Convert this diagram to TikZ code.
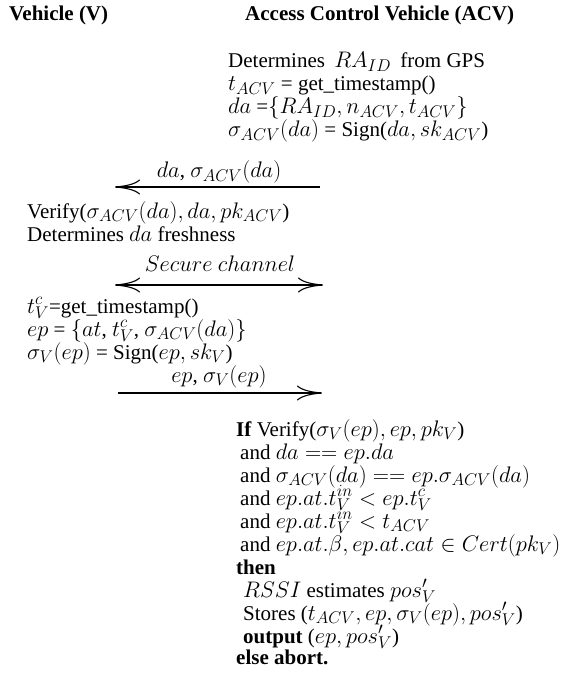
\RequirePackage{fix-cm}
\documentclass[tikz,border=0pt]{standalone}
\usepackage{fontspec}
\setmainfont{Liberation Serif}
\usetikzlibrary{arrows.meta}
\DeclareMathSizes{21}{22.5}{17}{12.5}
\tikzset{
  txt/.style={inner sep=0pt, anchor=base west, font=\fontsize{21}{23}\selectfont},
  lbl/.style={inner sep=0pt, anchor=base, font=\fontsize{21}{23}\selectfont},
  msg/.style={line width=1.1pt, -{Computer Modern Rightarrow[length=25pt,width=15pt,line width=1.1pt]}},
  msgboth/.style={line width=1.1pt, {Computer Modern Rightarrow[length=25pt,width=15pt,line width=1.1pt]}-{Computer Modern Rightarrow[length=25pt,width=15pt,line width=1.1pt]}}
}
\begin{document}
\begin{tikzpicture}[x=1pt,y=-1pt]
\useasboundingbox (0,0) rectangle (580,679);
% headers
\node[txt] (hv) at (9,21) {\textbf{Vehicle (V)}};
\node[txt] (hacv) at (245,21) {\textbf{Access Control Vehicle (ACV)}};
% ACV block 1
\node[txt] (a1) at (228,68) {Determines\hspace{4pt} $RA_{ID}$\hspace{4pt} from GPS};
\node[txt] (a2) at (228,91) {$t_{ACV}$ = get\_timestamp()};
\node[txt] (a3) at (228,114) {$da$ =$\{RA_{ID}, n_{ACV}, t_{ACV}\}$};
\node[txt] (a4) at (228,137) {$\sigma_{ACV}(da)$ = Sign($da, sk_{ACV}$)};
% message 1
\coordinate (m1s) at (320,187);
\coordinate (m1e) at (115,187);
\draw[msg] (m1s) -- (m1e);
\node[lbl] (m1l) at (219,178) {$da$, $\sigma_{ACV}(da)$};
% V block 1
\node[txt] (v1) at (27,218) {Verify($\sigma_{ACV}(da), da, pk_{ACV}$)};
\node[txt] (v2) at (27,241) {Determines $da$ freshness};
% secure channel
\coordinate (scl) at (115,285);
\coordinate (scr) at (323,285);
\draw[msgboth] (scl) -- (scr);
\node[lbl] (sclab) at (220,271) {$Secure\ channel$};
% V block 2
\node[txt] (v3) at (27,313) {$t_V^c$=get\_timestamp()};
\node[txt] (v4) at (27,336) {$ep$ = $\{at$, $t_V^c$, $\sigma_{ACV}(da)\}$};
\node[txt] (v5) at (27,359) {$\sigma_V(ep)$ = Sign($ep, sk_V$)};
% message 2
\coordinate (m2s) at (118,393);
\coordinate (m2e) at (322,393);
\draw[msg] (m2s) -- (m2e);
\node[lbl] (m2l) at (219,382) {$ep$, $\sigma_V(ep)$};
% ACV block 2
\node[txt] (b1) at (236,436) {\textbf{If} Verify($\sigma_V(ep), ep, pk_V$)};
\node[txt] (b2) at (240,459) {and $da == ep.da$};
\node[txt] (b3) at (240,482) {and $\sigma_{ACV}(da) == ep.\sigma_{ACV}(da)$};
\node[txt] (b4) at (240,505) {and $ep.at.t_V^{in} < ep.t_V^c$};
\node[txt] (b5) at (240,528) {and $ep.at.t_V^{in} < t_{ACV}$};
\node[txt] (b6) at (240,551) {and $ep.at.\beta, ep.at.cat \in Cert(pk_V)$};
\node[txt] (b7) at (236,574) {\textbf{then}};
\node[txt] (b8) at (243,597) {$RSSI$ estimates $pos'_V$};
\node[txt] (b9) at (243,620) {Stores ($t_{ACV}, ep, \sigma_V(ep), pos'_V$)};
\node[txt] (b10) at (243,643) {\textbf{output} ($ep, pos'_V$)};
\node[txt] (b11) at (236,664) {\textbf{else abort.}};
\end{tikzpicture}
\end{document}
